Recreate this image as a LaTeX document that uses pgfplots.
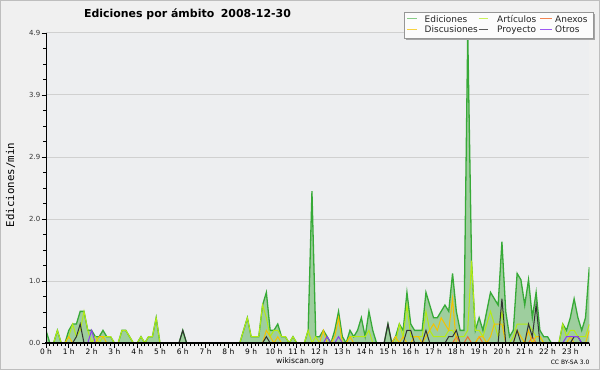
\documentclass[border=0pt]{standalone}
\usepackage{pgfplots}
\pgfplotsset{compat=1.18}
\usepackage{pgfplotstable}
\usepackage{fontspec}
\setmainfont{DejaVu Sans}
\newfontfamily\monofont{DejaVu Sans Mono}
\usetikzlibrary{backgrounds}

\definecolor{outerbg}{RGB}{240,240,240}
\definecolor{plotbg}{RGB}{237,238,240}
\definecolor{framecol}{RGB}{190,190,190}
\definecolor{gridcol}{RGB}{208,208,208}
\definecolor{edfill}{RGB}{158,206,158}
\definecolor{edline}{RGB}{55,170,55}
\definecolor{artcol}{RGB}{180,235,20}
\definecolor{disccol}{RGB}{245,195,0}
\definecolor{proycol}{RGB}{50,50,50}
\definecolor{anxcol}{RGB}{240,110,50}
\definecolor{otrcol}{RGB}{140,60,240}
\definecolor{legborder}{RGB}{150,150,150}
\definecolor{legfill}{RGB}{252,252,252}
\definecolor{shadowcol}{RGB}{165,165,165}

\pgfplotstableread{
i ed art anx disc proy otr
0 0.2 0 0 0 0 0
1 0 0 0 0 0 0
2 0 0 0 0 0 0
3 0.2 0.2 0 0 0 0
4 0 0 0 0 0 0
5 0 0 0 0 0 0
6 0.2 0.1 0 0.1 0 0
7 0.3 0.3 0 0 0 0
8 0.3 0.1 0 0 0.1 0
9 0.5 0.2 0 0 0.3 0
10 0.5 0.5 0 0 0 0
11 0.2 0.2 0 0 0 0
12 0.2 0 0 0 0 0.2
13 0.1 0.1 0 0 0 0
14 0.1 0 0 0.1 0 0
15 0.2 0.1 0 0.1 0 0
16 0.1 0.1 0 0 0 0
17 0.1 0.1 0 0 0 0
18 0 0 0 0 0 0
19 0 0 0 0 0 0
20 0.2 0.2 0 0 0 0
21 0.2 0.2 0 0 0 0
22 0.1 0.1 0 0 0 0
23 0 0 0 0 0 0
24 0 0 0 0 0 0
25 0.1 0.1 0 0 0 0
26 0 0 0 0 0 0
27 0.1 0.1 0 0 0 0
28 0.1 0.1 0 0 0 0
29 0.4 0.4 0 0 0 0
30 0 0 0 0 0 0
31 0 0 0 0 0 0
32 0 0 0 0 0 0
33 0 0 0 0 0 0
34 0 0 0 0 0 0
35 0 0 0 0 0 0
36 0.2 0 0 0 0.2 0
37 0 0 0 0 0 0
38 0 0 0 0 0 0
39 0 0 0 0 0 0
40 0 0 0 0 0 0
41 0 0 0 0 0 0
42 0 0 0 0 0 0
43 0 0 0 0 0 0
44 0 0 0 0 0 0
45 0 0 0 0 0 0
46 0 0 0 0 0 0
47 0 0 0 0 0 0
48 0 0 0 0 0 0
49 0 0 0 0 0 0
50 0 0 0 0 0 0
51 0 0 0 0 0 0
52 0.2 0.2 0 0 0 0
53 0.4 0.4 0 0 0 0
54 0.1 0.1 0 0 0 0
55 0.1 0.1 0 0 0 0
56 0.1 0.1 0 0 0 0
57 0.6 0.6 0 0 0 0
58 0.8 0.4 0 0.2 0.1 0
59 0.2 0.1 0 0.1 0 0
60 0.2 0.2 0 0 0 0
61 0.3 0.2 0 0.1 0 0
62 0.1 0.1 0 0 0 0
63 0.1 0.1 0 0 0 0
64 0 0 0 0 0 0
65 0.1 0.1 0 0 0 0
66 0 0 0 0 0 0
67 0 0 0 0 0 0
68 0 0 0 0 0 0
69 0.2 0.2 0 0 0 0
70 2.4 0 0 0 0 0
71 0.1 0.1 0 0 0 0
72 0.1 0 0 0 0 0
73 0.2 0 0 0.2 0 0
74 0.1 0 0 0 0 0.1
75 0 0 0 0 0 0
76 0.2 0 0 0.1 0 0
77 0.5 0 0 0.4 0 0.1
78 0.1 0 0 0 0 0
79 0 0 0 0 0 0
80 0.2 0.1 0 0.1 0 0
81 0.1 0.1 0 0 0 0
82 0.2 0.1 0 0 0 0
83 0.4 0.1 0 0 0 0
84 0.1 0.1 0 0 0 0
85 0.5 0.2 0 0 0 0
86 0.2 0 0 0 0 0
87 0 0 0 0 0 0
88 0 0 0 0 0 0
89 0 0 0 0 0 0
90 0.3 0 0 0 0.3 0
91 0 0 0 0 0 0
92 0.1 0 0 0.1 0 0
93 0.3 0.3 0 0 0 0
94 0.2 0.1 0 0.1 0 0
95 0.8 0.6 0 0 0.2 0
96 0.3 0.1 0 0 0.2 0
97 0.2 0.1 0 0.1 0 0
98 0.2 0.1 0 0.1 0 0
99 0.2 0.1 0 0 0 0
100 0.8 0.5 0 0.1 0.2 0
101 0.6 0.2 0 0.2 0 0
102 0.4 0.1 0 0.3 0 0
103 0.4 0.1 0 0.2 0 0
104 0.5 0.1 0 0.4 0 0
105 0.6 0.1 0 0.3 0 0
106 0.5 0.2 0 0.2 0.1 0
107 1.1 0.2 0 0.7 0.1 0
108 0.5 0.1 0.1 0 0.2 0
109 0.2 0.1 0 0 0 0
110 0.2 0.1 0 0 0 0
111 4.9 0.2 0.1 0 0 0
112 1.3 1.3 0 0 0 0
113 0.2 0.2 0 0 0 0
114 0.4 0.2 0.1 0.1 0 0
115 0.2 0.1 0 0.1 0 0
116 0.5 0.3 0 0 0 0
117 0.8 0.5 0 0.1 0 0
118 0.7 0.3 0 0.3 0 0
119 0.6 0.1 0 0.3 0 0
120 1.6 0.5 0 0.3 0.7 0
121 0.5 0 0 0 0 0
122 0.1 0 0 0 0 0
123 0.2 0.1 0 0 0 0
124 1.1 0.3 0 0.2 0.2 0
125 1.0 0.3 0 0.1 0 0
126 0.6 0.3 0 0 0 0
127 1.0 0.3 0 0.2 0.3 0
128 0.4 0.2 0.1 0 0.1 0
129 0.8 0.1 0 0.1 0.6 0
130 0.2 0.1 0 0.1 0 0
131 0.1 0 0 0 0 0
132 0.1 0 0 0 0 0
133 0 0 0 0 0 0
134 0 0 0 0 0 0
135 0 0 0 0 0 0
136 0.3 0.3 0 0 0 0
137 0.2 0.1 0 0 0 0.1
138 0.4 0.2 0 0.1 0 0.1
139 0.7 0.2 0 0 0.1 0.1
140 0.4 0.1 0 0 0.1 0.1
141 0.2 0.1 0 0 0 0
142 0.4 0.1 0 0 0 0
143 1.2 0.3 0 0.2 0 0
}\data

\begin{document}
\begin{tikzpicture}[x=1bp,y=1bp]
\useasboundingbox (0,0) rectangle (600,370);
\begin{scope}[on background layer]
\fill[outerbg] (0,0) rectangle (600,370);
\draw[framecol,line width=1bp] (0.5,0.5) rectangle (599.5,369.5);
\end{scope}
\begin{axis}[
  at={(46bp,27bp)}, anchor=south west,
  scale only axis, width=543.3bp, height=310bp,
  xmin=0, xmax=143, ymin=0, ymax=4.9,
  axis background/.style={fill=plotbg},
  axis x line*=bottom, axis y line*=left,
  axis line style={draw=none},
  no markers,
  ymajorgrids, grid style={gridcol, line width=1bp},
  ytick={0,0.98,1.96,2.94,3.92,4.9},
  yticklabels={0.0,1.0,2.0,2.9,3.9,4.9},
  minor y tick num=3,
  xtick={0,6,...,138},
  xticklabels={0 h,1 h,2 h,3 h,4 h,5 h,6 h,7 h,8 h,9 h,10 h,11 h,12 h,13 h,14 h,15 h,16 h,17 h,18 h,19 h,20 h,21 h,22 h,23 h},
  minor xtick={0,1,...,143},
  tick align=outside,
  major tick length=4.5bp, minor tick length=3bp,
  tick style={black, line width=0.8bp},
  yticklabel style={font=\fontsize{7}{8}\selectfont, inner sep=1bp, text=black!80},
  xticklabel style={font=\fontsize{7.5}{8}\selectfont, inner sep=1bp},
]
\addplot[draw=none, fill=edfill] table[x=i,y=ed]{\data} \closedcycle;
\addplot[edline, line width=1.3bp] table[x=i,y=ed]{\data};
\addplot[artcol, line width=1bp] table[x=i,y=art]{\data};
\addplot[anxcol, line width=1bp] table[x=i,y=anx]{\data};
\addplot[disccol, line width=1bp] table[x=i,y=disc]{\data};
\addplot[proycol, line width=1bp] table[x=i,y=proy]{\data};
\addplot[otrcol, line width=1bp] table[x=i,y=otr]{\data};
\end{axis}
% axis lines on top of the data
\draw[black, line width=1.4bp] (45.3,27.2) -- (589.3,27.2);
\draw[black, line width=1bp] (46,26.5) -- (46,337);
% legend
\fill[shadowcol] (406,329.7) rectangle (595.3,356);
\filldraw[fill=legfill, draw=legborder, line width=0.6bp] (404,331.7) rectangle (593.3,358);
\begin{scope}[line width=1bp]
\draw[edline!60] (407.3,351) -- (417.3,351);
\draw[artcol!70] (478.5,351) -- (487.5,351);
\draw[anxcol!85] (540,351) -- (552,351);
\draw[disccol!75] (407.3,341) -- (417.3,341);
\draw[proycol!80] (478.5,341) -- (487.5,341);
\draw[otrcol!85] (540,341) -- (552,341);
\end{scope}
\begin{scope}[every node/.style={anchor=base west, inner sep=0pt, font=\fontsize{9}{10}\selectfont, text=black!85}]
\node at (424.5,347.3) {Ediciones};
\node at (497,347.3) {Artículos};
\node at (555,347.3) {Anexos};
\node at (424.5,337.7) {Discusiones};
\node at (497,337.7) {Proyecto};
\node at (555,337.7) {Otros};
\end{scope}
\node[font=\bfseries\fontsize{11}{13}\selectfont] at (187.5,355.7) {Ediciones por ámbito\hspace{0.6em}2008-12-30};
\node[rotate=90, font=\monofont\fontsize{10.8}{12}\selectfont] at (10.5,185) {Ediciones/min};
\node[font=\fontsize{7.7}{9}\selectfont] at (300,8.5) {wikiscan.org};
\node[font=\fontsize{6}{7}\selectfont, anchor=east, inner sep=0pt] at (589.5,7.5) {CC BY-SA 3.0};
\end{tikzpicture}
\end{document}
